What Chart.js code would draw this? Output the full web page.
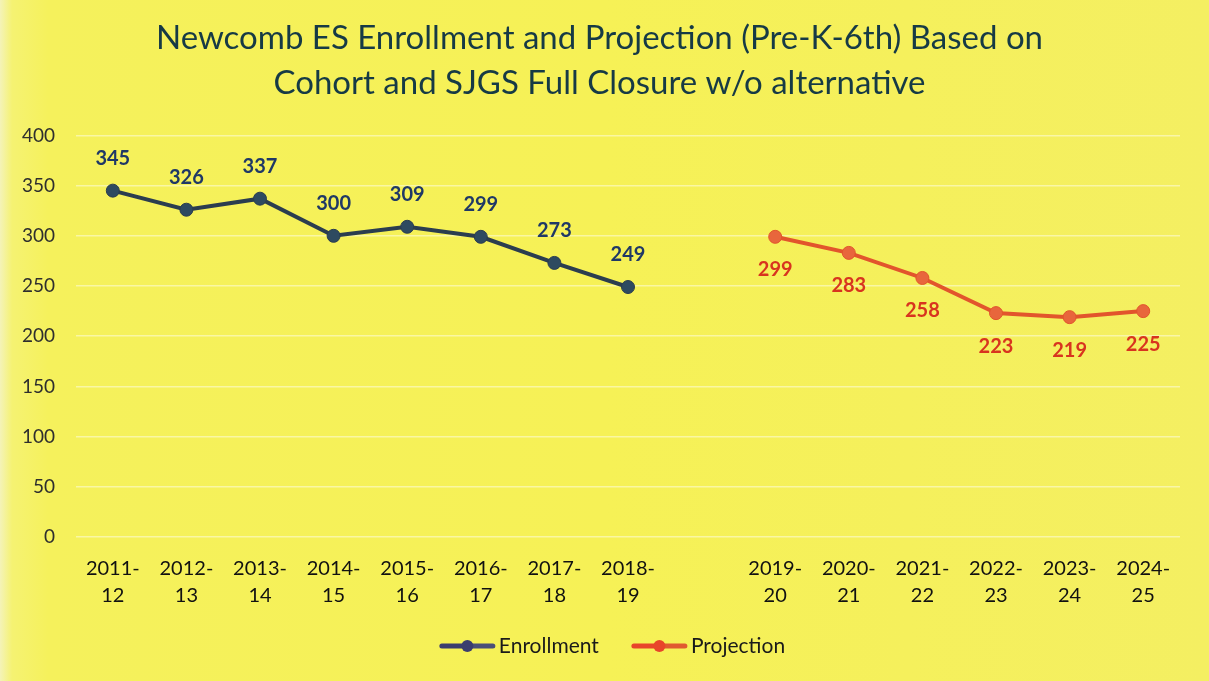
<!DOCTYPE html>
<html>
<head>
<meta charset="utf-8">
<script src="https://cdn.jsdelivr.net/npm/chart.js@4"></script>
<style>
  html, body { margin: 0; padding: 0; background: #f5f05a; }
  #wrap { width: 1209px; height: 681px; position: relative; }
</style>
</head>
<body>
<div id="wrap"><canvas id="c" width="1209" height="681"></canvas></div>
<script>
const categories = [
  ['2011-', '12'], ['2012-', '13'], ['2013-', '14'], ['2014-', '15'],
  ['2015-', '16'], ['2016-', '17'], ['2017-', '18'], ['2018-', '19'],
  '',
  ['2019-', '20'], ['2020-', '21'], ['2021-', '22'], ['2022-', '23'],
  ['2023-', '24'], ['2024-', '25']
];
const enrollment = [345, 326, 337, 300, 309, 299, 273, 249, null, null, null, null, null, null, null];
const projection = [null, null, null, null, null, null, null, null, null, 299, 283, 258, 223, 219, 225];
const titleLines = ['Newcomb ES Enrollment and Projection (Pre-K-6th) Based on', 'Cohort and SJGS Full Closure w/o alternative'];
const yTicks = [0, 50, 100, 150, 200, 250, 300, 350, 400];
const seriesNames = ['Enrollment', 'Projection'];

const FONT = 'Lato, "Open Sans", sans-serif';
const ENR_LINE = '#2b3d4f';
const ENR_LABEL = '#1f3866';
const PRJ_LINE = '#e2552c';
const PRJ_LABEL = '#d8341f';
const LEG_COLORS = [['#3b3d6e', '#4a4f78'], ['#e8452a', '#e05a30']];

const bgPlugin = {
  id: 'bg',
  beforeDraw(chart) {
    const { ctx, width, height } = chart;
    ctx.save();
    const grd = ctx.createLinearGradient(0, 0, width, 0);
    grd.addColorStop(0, '#f4f3b8');
    grd.addColorStop(0.01, '#f5f272');
    grd.addColorStop(0.04, '#f5f15c');
    grd.addColorStop(0.5, '#f6f156');
    grd.addColorStop(1, '#f4ef62');
    ctx.fillStyle = grd;
    ctx.fillRect(0, 0, width, height);
    ctx.restore();
  }
};

const labelPlugin = {
  id: 'valueLabels',
  afterDatasetsDraw(chart) {
    const { ctx } = chart;
    ctx.save();
    ctx.font = 'bold 20px ' + FONT;
    ctx.textAlign = 'center';
    ctx.textBaseline = 'middle';
    chart.data.datasets.forEach((ds, di) => {
      const meta = chart.getDatasetMeta(di);
      meta.data.forEach((pt, i) => {
        const v = ds.data[i];
        if (v === null || v === undefined) return;
        const above = di === 0;
        ctx.fillStyle = above ? ENR_LABEL : PRJ_LABEL;
        ctx.fillText(String(v), pt.x, above ? pt.y - 32 : pt.y + 33);
      });
    });
    ctx.restore();
  }
};

const legendPlugin = {
  id: 'customLegend',
  afterDraw(chart) {
    const { ctx, width } = chart;
    ctx.save();
    ctx.font = '21px ' + FONT;
    ctx.textBaseline = 'middle';
    const iconW = 55, gapText = 4, gapItem = 33;
    const widths = seriesNames.map(n => iconW + gapText + ctx.measureText(n).width);
    const total = widths.reduce((a, b) => a + b, 0) + gapItem * (seriesNames.length - 1);
    let x = width / 2 + 8 - total / 2;
    const y = 646;
    seriesNames.forEach((name, i) => {
      const [c1, c2] = LEG_COLORS[i];
      ctx.lineCap = 'round';
      ctx.lineWidth = 5;
      ctx.strokeStyle = c1;
      ctx.beginPath(); ctx.moveTo(x + 2, y); ctx.lineTo(x + iconW / 2, y); ctx.stroke();
      ctx.strokeStyle = c2;
      ctx.beginPath(); ctx.moveTo(x + iconW / 2, y); ctx.lineTo(x + iconW - 2, y); ctx.stroke();
      ctx.fillStyle = c1;
      ctx.beginPath(); ctx.arc(x + iconW / 2, y, 6, 0, Math.PI * 2); ctx.fill();
      ctx.fillStyle = '#1a1a1a';
      ctx.textAlign = 'left';
      ctx.fillText(name, x + iconW + gapText, y);
      x += widths[i] + gapItem;
    });
    ctx.restore();
  }
};

new Chart(document.getElementById('c'), {
  type: 'line',
  data: {
    labels: categories,
    datasets: [
      {
        label: seriesNames[0],
        data: enrollment,
        borderColor: ENR_LINE,
        backgroundColor: '#2e4a60',
        borderWidth: 4,
        pointRadius: 6.5,
        pointBackgroundColor: '#2e4a60',
        pointBorderColor: ENR_LINE,
        pointBorderWidth: 1,
        spanGaps: false,
        tension: 0
      },
      {
        label: seriesNames[1],
        data: projection,
        borderColor: PRJ_LINE,
        backgroundColor: '#e8663c',
        borderWidth: 4,
        pointRadius: 6.5,
        pointBackgroundColor: '#e8663c',
        pointBorderColor: PRJ_LINE,
        pointBorderWidth: 1,
        spanGaps: false,
        tension: 0
      }
    ]
  },
  options: {
    responsive: false,
    animation: false,
    layout: { padding: { top: 16, left: 19, right: 29, bottom: 72 } },
    plugins: {
      title: {
        display: true,
        text: titleLines,
        color: '#163a45',
        font: { family: FONT, size: 33, weight: 'normal', lineHeight: 1.37 },
        padding: { top: 0, bottom: 29 }
      },
      legend: { display: false },
      tooltip: { enabled: false }
    },
    scales: {
      x: {
        offset: true,
        grid: { display: false },
        border: { display: false },
        afterFit(scale) { scale.height = 72; },
        ticks: {
          autoSkip: false,
          maxRotation: 0,
          color: '#111111',
          font: { family: FONT, size: 20, lineHeight: 1.35 },
          padding: 10
        }
      },
      y: {
        min: 0,
        max: 400,
        afterBuildTicks(scale) { scale.ticks = yTicks.map(v => ({ value: v })); },
        afterFit(scale) { scale.width = 57; },
        grid: { color: 'rgba(255,255,255,0.45)', lineWidth: 1.5, drawTicks: false },
        border: { display: false },
        ticks: {
          color: '#2e2e2e',
          font: { family: FONT, size: 19 },
          padding: 21
        }
      }
    }
  },
  plugins: [bgPlugin, labelPlugin, legendPlugin]
});
</script>
</body>
</html>
